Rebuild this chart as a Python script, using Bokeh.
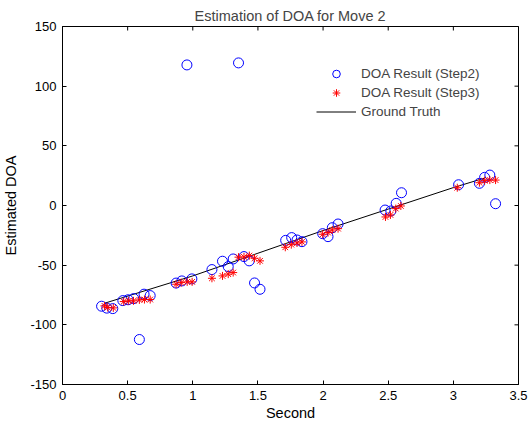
import math
from bokeh.plotting import figure
from bokeh.models import Range1d, FixedTicker, Legend, LegendItem, Span
from bokeh.embed import file_html
from bokeh.resources import INLINE

# ---- data ----
s2_x = [0.30, 0.34, 0.386, 0.463, 0.503, 0.547, 0.59, 0.626, 0.673, 0.872, 0.916, 0.955, 0.993,
        1.147, 1.228, 1.272, 1.31, 1.351, 1.393, 1.433, 1.474, 1.516, 1.713, 1.759, 1.80, 1.838,
        1.997, 2.038, 2.071, 2.115, 2.476, 2.52, 2.561, 2.602, 3.04, 3.20, 3.24, 3.28, 3.324]
s2_y = [-84.4, -86.0, -86.4, -79.7, -79.0, -78.0, -112.3, -74.3, -75.5, -65.0, -63.2, 117.8, -61.5,
        -53.7, -46.7, -51.2, -44.8, 119.5, -42.8, -46.4, -64.9, -70.2, -29.2, -26.9, -28.9, -30.3,
        -23.6, -26.1, -18.6, -15.5, -3.8, -4.6, 1.8, 10.7, 17.4, 18.6, 23.6, 25.5, 1.5]

s3_x = [0.322, 0.347, 0.39, 0.47, 0.508, 0.545, 0.59, 0.629, 0.673, 0.872, 0.911, 0.957, 0.995,
        1.147, 1.228, 1.272, 1.31, 1.351, 1.393, 1.434, 1.474, 1.516, 1.71, 1.756, 1.80, 1.838,
        1.997, 2.038, 2.071, 2.115, 2.479, 2.517, 2.558, 2.597, 3.03, 3.20, 3.24, 3.28, 3.324]
s3_y = [-84.1, -85.5, -85.8, -80.5, -79.9, -79.9, -79.1, -78.8, -78.8, -66.0, -64.6, -64.0, -64.0,
        -61.0, -59.0, -57.5, -56.2, -43.3, -43.1, -42.0, -44.2, -46.4, -35.0, -32.8, -31.4, -30.5,
        -24.1, -22.7, -20.5, -19.4, -9.6, -7.9, -2.6, -0.4, 14.9, 19.1, 20.8, 21.3, 21.3]

gt_x = [0.32, 1.0, 1.5, 2.0, 2.5, 3.0, 3.24]
gt_y = [-82, -59, -40, -21, -3, 15, 23]

x_lim = (0, 3.5)
y_lim = (-150, 150)
x_ticks = [0, 0.5, 1, 1.5, 2, 2.5, 3, 3.5]
x_tick_labels = ["0", "0.5", "1", "1.5", "2", "2.5", "3", "3.5"]
y_ticks = [-150, -100, -50, 0, 50, 100, 150]
y_tick_labels = ["-150", "-100", "-50", "0", "50", "100", "150"]

title_text = "Estimation of DOA for Move 2"
x_label = "Second"
y_label = "Estimated DOA"
legend_labels = ["DOA Result (Step2)", "DOA Result (Step3)", "Ground Truth"]

FONT = "Liberation Sans"
TICK_FS = "13px"
LABEL_FS = "14.5px"
LEG_FS = "13.5px"

p = figure(frame_width=456, frame_height=358, output_backend="svg", toolbar_location=None,
           x_range=Range1d(*x_lim), y_range=Range1d(*y_lim),
           min_border_left=61, min_border_top=26, min_border_right=11, min_border_bottom=36,
           background_fill_color="white", border_fill_color="white")
p.xgrid.visible = False
p.ygrid.visible = False
p.outline_line_color = "black"

p.title.text = title_text
p.title.align = "center"
p.title.text_font = FONT
p.title.text_font_size = LABEL_FS
p.title.text_font_style = "normal"
p.title.standoff = 6
p.title.offset = 0

for ax, ticks, labels in ((p.xaxis[0], x_ticks, x_tick_labels), (p.yaxis[0], y_ticks, y_tick_labels)):
    ax.ticker = FixedTicker(ticks=ticks)
    ax.major_label_overrides = {t: l for t, l in zip(ticks, labels)}
    ax.major_tick_in = 4
    ax.major_tick_out = 0
    ax.minor_tick_in = 0
    ax.minor_tick_out = 0
    ax.axis_line_color = "black"
    ax.major_tick_line_color = "black"
    ax.major_label_text_font = FONT
    ax.major_label_text_font_size = TICK_FS
    ax.major_label_text_color = "black"
    ax.major_label_standoff = 6
    ax.axis_label_text_font = FONT
    ax.axis_label_text_font_size = LABEL_FS
    ax.axis_label_text_font_style = "normal"
    ax.axis_label_text_color = "black"
p.xaxis[0].axis_label = x_label
p.yaxis[0].axis_label = y_label
p.xaxis[0].axis_label_standoff = 2
p.yaxis[0].axis_label_standoff = 8

# top and right box edges with inward ticks (MATLAB "box on")
p.add_layout(Span(location=y_lim[1], dimension="width", line_color="black", line_width=1))
p.add_layout(Span(location=x_lim[1], dimension="height", line_color="black", line_width=1))
p.ray(x=x_ticks, y=[y_lim[1]] * len(x_ticks), length=4, length_units="screen",
      angle=-math.pi / 2, line_color="black", line_width=1)
p.ray(x=x_ticks, y=[y_lim[1]] * len(x_ticks), length=4, length_units="screen",
      angle=math.pi / 2, line_color="black", line_width=1)
p.ray(x=[x_lim[1]] * len(y_ticks), y=y_ticks, length=4, length_units="screen",
      angle=math.pi, line_color="black", line_width=1)

r_line = p.line(gt_x, gt_y, line_color="black", line_width=1)
r2 = p.scatter(s2_x, s2_y, marker="circle", size=10, line_color="blue", fill_color=None, line_width=1)
r3 = p.scatter(s3_x, s3_y, marker="asterisk", size=8, line_color="red", line_width=1)

legend = Legend(items=[LegendItem(label=legend_labels[0], renderers=[r2]),
                       LegendItem(label=legend_labels[1], renderers=[r3]),
                       LegendItem(label=legend_labels[2], renderers=[r_line])],
                location=(254, 263), border_line_color=None, background_fill_alpha=0,
                padding=0, margin=0, spacing=0, glyph_width=40, glyph_height=19,
                label_height=19, label_standoff=5,
                label_text_font=FONT, label_text_font_size=LEG_FS)
p.add_layout(legend, "center")

open("out.html", "w").write(file_html(p, INLINE))
